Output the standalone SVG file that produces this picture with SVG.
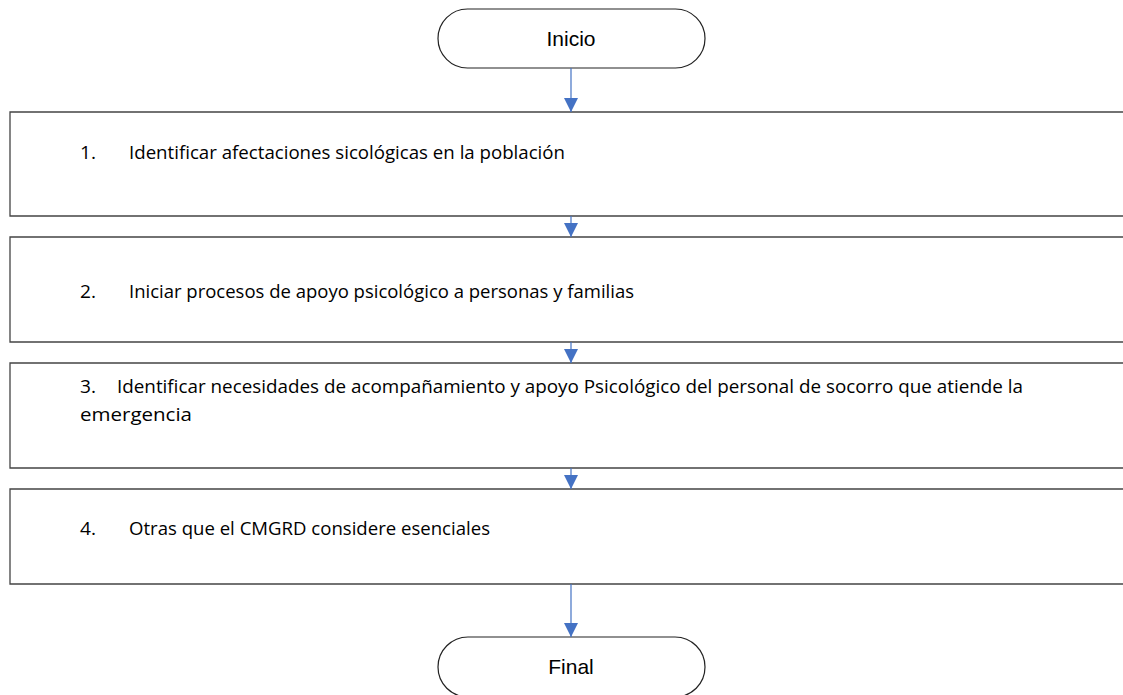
<svg xmlns="http://www.w3.org/2000/svg" width="1123" height="695" viewBox="0 0 1123 695">
<style>
.term{fill:#fff;stroke:#222;stroke-width:1.2}
.box{fill:#fff;stroke:#444;stroke-width:1.3}
.tt{font-family:"Liberation Sans",Arial,sans-serif;font-size:21px;fill:#000;text-anchor:middle}
.bt{font-family:"Open Sans","Liberation Sans",sans-serif;font-size:17.5px;fill:#000}
.con{stroke:#4472C4;stroke-width:1.2;fill:none}
</style>
<defs>
<marker id="ah" viewBox="0 0 14 14" refX="14" refY="7" markerWidth="14" markerHeight="14" markerUnits="userSpaceOnUse" orient="auto">
<path d="M0,0 L14,7 L0,14 Z" fill="#4472C4"/>
</marker>
</defs>
<g id="inicio">
<rect class="term" x="438" y="9" width="267" height="59" rx="29.5"/>
<text class="tt" x="571" y="46">Inicio</text>
</g>
<g id="step1">
<path class="box" d="M1130,112 H10 V216 H1130"/>
<text class="bt" x="80" y="159" textLength="16" lengthAdjust="spacingAndGlyphs">1.</text>
<text class="bt" x="129" y="159" textLength="436" lengthAdjust="spacingAndGlyphs">Identificar afectaciones sicológicas en la población</text>
</g>
<g id="step2">
<path class="box" d="M1130,237 H10 V342 H1130"/>
<text class="bt" x="80" y="298" textLength="16" lengthAdjust="spacingAndGlyphs">2.</text>
<text class="bt" x="129" y="298" textLength="505" lengthAdjust="spacingAndGlyphs">Iniciar procesos de apoyo psicológico a personas y familias</text>
</g>
<g id="step3">
<path class="box" d="M1130,363 H10 V468 H1130"/>
<text class="bt" x="80" y="393" textLength="16" lengthAdjust="spacingAndGlyphs">3.</text>
<text class="bt" x="117" y="393" textLength="906" lengthAdjust="spacingAndGlyphs">Identificar necesidades de acompañamiento y apoyo Psicológico del personal de socorro que atiende la</text>
<text class="bt" x="80" y="421" textLength="112" lengthAdjust="spacingAndGlyphs">emergencia</text>
</g>
<g id="step4">
<path class="box" d="M1130,489 H10 V584 H1130"/>
<text class="bt" x="80" y="535" textLength="16" lengthAdjust="spacingAndGlyphs">4.</text>
<text class="bt" x="129" y="535" textLength="361" lengthAdjust="spacingAndGlyphs">Otras que el CMGRD considere esenciales</text>
</g>
<g id="final">
<rect class="term" x="438" y="637" width="267" height="60" rx="30"/>
<text class="tt" x="571" y="674">Final</text>
</g>
<g id="connectors">
<line class="con" x1="571" y1="68" x2="571" y2="112" marker-end="url(#ah)"/>
<line class="con" x1="571" y1="216" x2="571" y2="237" marker-end="url(#ah)"/>
<line class="con" x1="571" y1="342" x2="571" y2="363" marker-end="url(#ah)"/>
<line class="con" x1="571" y1="468" x2="571" y2="489" marker-end="url(#ah)"/>
<line class="con" x1="571" y1="584" x2="571" y2="637" marker-end="url(#ah)"/>
</g>
</svg>
